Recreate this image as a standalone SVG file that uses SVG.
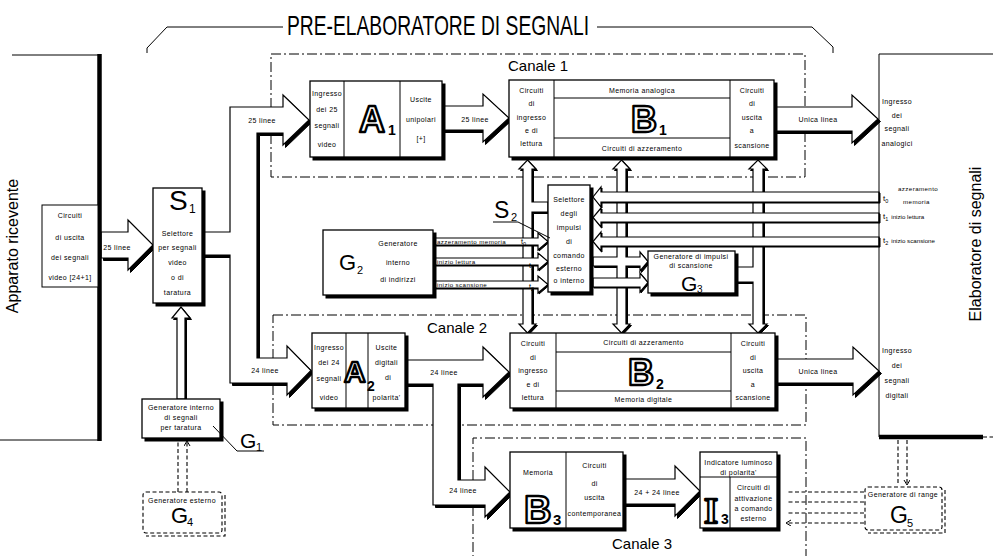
<svg xmlns="http://www.w3.org/2000/svg" width="993" height="556" viewBox="0 0 993 556">
<style>
text{font-family:"Liberation Sans",Arial,sans-serif;fill:#000}
.t{font-size:7px;text-anchor:middle;letter-spacing:0.4px}
.ts{font-size:6.2px;letter-spacing:0.4px}
.box{fill:#fff;stroke:#000;stroke-width:1.3}
.shd{fill:#000;stroke:#000;stroke-width:1}
.ln{fill:none;stroke:#000;stroke-width:1}
.thk{fill:none;stroke:#000;stroke-width:4.5}
.pipe{fill:#fff;stroke:#000;stroke-width:1.2;stroke-linejoin:miter}
.cb{fill:none;stroke:#000;stroke-width:1;stroke-dasharray:10 3 2 3}
.dsh{fill:none;stroke:#000;stroke-width:1.1;stroke-dasharray:4 2.5}
.big{font-weight:bold;fill:#fff;stroke:#000;stroke-width:2.4;stroke-linejoin:round}
.sub{font-weight:bold}
.lbl{font-size:15px}
</style>
<defs>
<marker id="ah" markerWidth="8" markerHeight="8" refX="5" refY="3" orient="auto" markerUnits="userSpaceOnUse"><path d="M0,0 L5,3 L0,6" fill="none" stroke="#000" stroke-width="1"/></marker>
<path id="c_in" d="M101,232 H128 V220 L153,245 L128,270 V258 H101 Z"/>
<path id="c_s1" d="M202,232 H230 V107 H283 V95 L309,120 L283,145 V133 H257 V358 H287 V346 L311,370.5 L287,395 V383 H230 V255 H202 Z"/>
<path id="c_a1" d="M442,106 H483 V94 L509,118 L483,142 V130 H442 Z"/>
<path id="c_b1" d="M774,107 H852 V95 L878,119 L852,143 V131 H774 Z"/>
<path id="c_a2" d="M405,360 H483 V347 L509,372 L483,397 V384 H458 V480 H485 V467 L510,492 L485,517 V505 H433 V384 H405 Z"/>
<path id="c_b2" d="M775,359 H853 V347 L879,371 L853,395 V383 H775 Z"/>
<path id="c_b3" d="M623,479 H675 V466 L700,491 L675,516 V504 H623 Z"/>
<path id="v_l" d="M527.5,160 L536,169 H532 V202 H548 V212 H532 V324 H536 L527.5,333 L519,324 H523 V169 H519 Z"/>
<path id="v_m" d="M621.5,160 L630,169 H626 V257 H640 V252 L648,261.5 L640,271 V266 H626 V324 H630 L621.5,333 L613,324 H617 V266 H593 V257 H617 V169 H613 Z"/>
<path id="v_r" d="M758,160 L767,169 H763 V324 H767 L758,333 L749,324 H753 V282 H736 V267 H753 V169 H749 Z"/>
<path id="v_g1" d="M177,399 V318 H172 L181,307 L190,318 H185 V399 Z"/>
<path id="tp1" d="M879,192 H601 V187 L593,197 L601,207 V202 H879 Z"/>
<path id="tp2" d="M879,213 H601 V208 L593,217.5 L601,227 V222 H879 Z"/>
<path id="tp3" d="M879,237 H601 V232 L593,241.5 L601,251 V246 H879 Z"/>
<path id="g2a" d="M434,238 H538 V233 L548,241.5 L538,250 V245 H434 Z"/>
<path id="g2b" d="M434,258 H538 V253 L548,261.5 L538,270 V265 H434 Z"/>
<path id="g2c" d="M434,281 H538 V276 L548,284.5 L538,293 V288 H434 Z"/>
<path id="g3b" d="M593,278 H640 V273 L648,282.5 L640,292 V287 H593 Z"/>
</defs>
<rect width="993" height="556" fill="#fff"/>

<g id="title">
<path d="M147,53 V48 L167,27 H283 M597,27 H812 L833,47 V53" class="ln"/>
<text x="287" y="35" font-size="28" textLength="302" lengthAdjust="spacingAndGlyphs">PRE-ELABORATORE DI SEGNALI</text>
</g>

<g id="canali">
<rect x="271" y="54" width="534" height="123" class="cb"/>
<rect x="273" y="315" width="533" height="110" class="cb"/>
<path d="M473,570 V438 H806 V570" class="cb"/>
<text x="508" y="71" class="lbl">Canale 1</text>
<text x="427" y="333" class="lbl">Canale 2</text>
<text x="612" y="549" class="lbl">Canale 3</text>
</g>

<g id="connectors">
<use href="#v_l" class="shd" transform="translate(1.5,1.5)"/><use href="#v_l" class="pipe"/>
<use href="#v_m" class="shd" transform="translate(1.5,1.5)"/><use href="#v_m" class="pipe"/>
<use href="#v_r" class="shd" transform="translate(1.5,1.5)"/><use href="#v_r" class="pipe"/>
<use href="#tp1" class="shd" transform="translate(1,1)"/><use href="#tp1" class="pipe"/>
<use href="#tp2" class="shd" transform="translate(1,1)"/><use href="#tp2" class="pipe"/>
<use href="#tp3" class="shd" transform="translate(1,1)"/><use href="#tp3" class="pipe"/>
<use href="#g2a" class="shd" transform="translate(1,1)"/><use href="#g2a" class="pipe"/>
<use href="#g2b" class="shd" transform="translate(1,1)"/><use href="#g2b" class="pipe"/>
<use href="#g2c" class="shd" transform="translate(1,1)"/><use href="#g2c" class="pipe"/>
<use href="#g3b" class="shd" transform="translate(1,1)"/><use href="#g3b" class="pipe"/>
<use href="#v_g1" class="shd" transform="translate(1.5,1.5)"/><use href="#v_g1" class="pipe"/>
<use href="#c_in" class="shd" transform="translate(2.5,2.5)"/><use href="#c_in" class="pipe"/>
<use href="#c_s1" class="shd" transform="translate(2.5,2.5)"/><use href="#c_s1" class="pipe"/>
<use href="#c_a1" class="shd" transform="translate(2.5,2.5)"/><use href="#c_a1" class="pipe"/>
<use href="#c_b1" class="shd" transform="translate(2.5,2.5)"/><use href="#c_b1" class="pipe"/>
<use href="#c_a2" class="shd" transform="translate(2.5,2.5)"/><use href="#c_a2" class="pipe"/>
<use href="#c_b2" class="shd" transform="translate(2.5,2.5)"/><use href="#c_b2" class="pipe"/>
<use href="#c_b3" class="shd" transform="translate(2.5,2.5)"/><use href="#c_b3" class="pipe"/>
<path d="M178,492 V441 M187,492 V441" class="dsh" marker-end="url(#ah)"/>
<path d="M898,440 V485 M907,440 V485" class="dsh" marker-end="url(#ah)"/>
<path d="M864,492 H786 M864,502 H786 M864,513 H786 M864,523 H786" class="dsh" marker-end="url(#ah)"/>
<text x="117" y="249.5" class="t">25 linee</text>
<text x="262" y="122.5" class="t">25 linee</text>
<text x="265" y="373" class="t">24 linee</text>
<text x="475" y="121.5" class="t">25 linee</text>
<text x="818" y="121.5" class="t">Unica linea</text>
<text x="444" y="374.5" class="t">24 linee</text>
<text x="818" y="374" class="t">Unica linea</text>
<text x="463" y="493" class="t">24 linee</text>
<text x="657" y="494.5" class="t">24 + 24 linee</text>
<text x="437" y="244" class="ts">azzeramento memoria</text>
<text x="437" y="264" class="ts">inizio lettura</text>
<text x="437" y="287" class="ts">inizio scansione</text>
<text x="521" y="244" font-size="7.5">t<tspan font-size="5.5" dy="1.5">0</tspan></text>
<text x="529" y="268" font-size="7.5">t<tspan font-size="5.5" dy="1.5">1</tspan></text>
<text x="529" y="289" font-size="7.5">t<tspan font-size="5.5" dy="1.5">2</tspan></text>
</g>

<g id="apparato">
<path d="M12,55 H99 M0,440 H98" class="ln"/>
<path d="M99.5,54 V441" class="thk"/>
<text transform="translate(18,246) rotate(-90)" font-size="16" text-anchor="middle">Apparato ricevente</text>
<rect x="42" y="205" width="56" height="82" fill="#fff" stroke="#000" stroke-width="1"/>
<text x="70" y="217.5" class="t">Circuiti</text>
<text x="70" y="239.5" class="t">di uscita</text>
<text x="70" y="259.5" class="t">dei segnali</text>
<text x="70" y="279.5" class="t">video [24+1]</text>
</g>

<g id="elaboratore">
<path d="M879,54 H993 M879,54 V437" class="ln"/>
<path d="M879,437 H983" class="thk"/>
<path d="M983,437 H993" class="dsh"/>
<text transform="translate(981,244) rotate(-90)" font-size="16" text-anchor="middle">Elaboratore di segnali</text>
<text x="897" y="104" class="t">Ingresso</text>
<text x="897" y="117.5" class="t">dei</text>
<text x="897" y="131" class="t">segnali</text>
<text x="897" y="145.5" class="t">analogici</text>
<text x="897" y="352.5" class="t">Ingresso</text>
<text x="897" y="367.5" class="t">dei</text>
<text x="897" y="382.5" class="t">segnali</text>
<text x="897" y="397.5" class="t">digitali</text>
<text x="883" y="201" font-size="8">t<tspan font-size="5.5" dy="1.5">0</tspan></text>
<text x="898" y="191" class="ts">azzeramento</text>
<text x="903" y="204" class="ts">memoria</text>
<text x="883" y="219" font-size="8">t<tspan font-size="5.5" dy="1.5">1</tspan><tspan font-size="6.2" dy="-1.5" dx="3">inizio lettura</tspan></text>
<text x="883" y="243" font-size="8">t<tspan font-size="5.5" dy="1.5">2</tspan><tspan font-size="6.2" dy="-1.5" dx="3">inizio scansione</tspan></text>
</g>

<g id="S1">
<rect x="156" y="191" width="49" height="115" class="shd"/>
<rect x="153" y="188" width="49" height="115" class="box"/>
<text x="169" y="210" font-size="28">S</text><text x="189" y="213" font-size="12">1</text>
<text x="177.5" y="235.5" class="t">Selettore</text>
<text x="177.5" y="249.5" class="t">per segnali</text>
<text x="177.5" y="264.5" class="t">video</text>
<text x="177.5" y="279.5" class="t">o di</text>
<text x="177.5" y="294.5" class="t">taratura</text>
</g>

<g id="A1">
<rect x="313" y="84" width="132" height="76" class="shd"/>
<rect x="310" y="81" width="132" height="76" class="box"/>
<path d="M344,81 V157 M400,81 V157" class="ln"/>
<text x="327" y="96" class="t">Ingresso</text>
<text x="327" y="112" class="t">dei 25</text>
<text x="327" y="128" class="t">segnali</text>
<text x="327" y="147" class="t">video</text>
<text x="359" y="132" font-size="36" class="big">A</text><text x="388" y="135" font-size="14" class="sub">1</text>
<text x="421" y="101.5" class="t">Uscite</text>
<text x="421" y="121.5" class="t">unipolari</text>
<text x="421" y="140.5" class="t">[+]</text>
</g>

<g id="B1">
<rect x="512" y="83" width="265" height="77" class="shd"/>
<rect x="509" y="80" width="265" height="77" class="box"/>
<path d="M554,80 V157 M730,80 V157 M554,98 H730 M554,138 H730" class="ln"/>
<text x="531.5" y="92.5" class="t">Circuiti</text>
<text x="531.5" y="105.5" class="t">di</text>
<text x="531.5" y="119.5" class="t">ingresso</text>
<text x="531.5" y="132.5" class="t">e di</text>
<text x="531.5" y="145.5" class="t">lettura</text>
<text x="642" y="93" class="t">Memoria analogica</text>
<text x="631" y="132" font-size="36" class="big">B</text><text x="659" y="135" font-size="14" class="sub">1</text>
<text x="642" y="150.5" class="t">Circuiti di azzeramento</text>
<text x="752" y="92.5" class="t">Circuiti</text>
<text x="752" y="105.5" class="t">di</text>
<text x="752" y="119.5" class="t">uscita</text>
<text x="752" y="132.5" class="t">a</text>
<text x="752" y="148" class="t">scansione</text>
</g>

<g id="S2">
<rect x="551" y="188" width="42" height="107" class="shd"/>
<rect x="548" y="185" width="42" height="107" class="box"/>
<text x="569" y="201.5" class="t">Selettore</text>
<text x="569" y="216" class="t">degli</text>
<text x="569" y="230" class="t">impulsi</text>
<text x="569" y="244" class="t">di</text>
<text x="569" y="258" class="t">comando</text>
<text x="569" y="270.5" class="t">esterno</text>
<text x="569" y="283" class="t">o interno</text>
<text x="494" y="218" font-size="23">S</text><text x="511" y="221" font-size="11">2</text>
<path d="M493,222 H518 L550,238" class="ln"/>
</g>

<g id="G2">
<rect x="326" y="233" width="110" height="65" class="shd"/>
<rect x="323" y="230" width="110" height="65" class="box"/>
<text x="339" y="270" font-size="22">G</text><text x="357" y="274" font-size="11">2</text>
<text x="398" y="245.5" class="t">Generatore</text>
<text x="398" y="264.5" class="t">interno</text>
<text x="398" y="281.5" class="t">di indirizzi</text>
</g>

<g id="G3">
<rect x="651" y="254" width="87" height="42" class="shd"/>
<rect x="648" y="251" width="87" height="42" class="box"/>
<text x="691" y="259" class="t">Generatore di impulsi</text>
<text x="691" y="268" class="t">di scansione</text>
<text x="681" y="291" font-size="21">G</text><text x="697" y="293" font-size="10">3</text>
</g>

<g id="A2">
<rect x="315" y="336" width="93" height="75" class="shd"/>
<rect x="312" y="333" width="93" height="75" class="box"/>
<path d="M346,333 V408 M368,333 V408" class="ln"/>
<text x="329" y="349.5" class="t">Ingresso</text>
<text x="329" y="365" class="t">dei 24</text>
<text x="329" y="381" class="t">segnali</text>
<text x="329" y="400" class="t">video</text>
<text x="344" y="382" font-size="30" class="big">A</text><text x="367" y="391" font-size="14" class="sub">2</text>
<text x="386.5" y="349.5" class="t">Uscite</text>
<text x="386.5" y="364.5" class="t">digitali</text>
<text x="388" y="380" class="t">di</text>
<text x="386.5" y="399.5" class="t">polarita'</text>
</g>

<g id="B2">
<rect x="513" y="336" width="265" height="75" class="shd"/>
<rect x="510" y="333" width="265" height="75" class="box"/>
<path d="M556,333 V408 M731,333 V408 M556,352 H731 M556,391 H731" class="ln"/>
<text x="533" y="345.5" class="t">Circuiti</text>
<text x="533" y="359.5" class="t">di</text>
<text x="533" y="372.5" class="t">ingresso</text>
<text x="533" y="386.5" class="t">e di</text>
<text x="533" y="399.5" class="t">lettura</text>
<text x="643.5" y="345" class="t">Circuiti di azzeramento</text>
<text x="628" y="385" font-size="36" class="big">B</text><text x="656" y="389" font-size="14" class="sub">2</text>
<text x="643.5" y="402" class="t">Memoria digitale</text>
<text x="753" y="345.5" class="t">Circuiti</text>
<text x="753" y="359.5" class="t">di</text>
<text x="753" y="372.5" class="t">uscita</text>
<text x="753" y="386.5" class="t">a</text>
<text x="753" y="399.5" class="t">scansione</text>
</g>

<g id="B3">
<rect x="513" y="455" width="113" height="76" class="shd"/>
<rect x="510" y="452" width="113" height="76" class="box"/>
<path d="M566,452 V528" class="ln"/>
<text x="538" y="474.5" class="t">Memoria</text>
<text x="524" y="523" font-size="38" class="big">B</text><text x="553" y="525" font-size="15" class="sub">3</text>
<text x="594.5" y="467.5" class="t">Circuiti</text>
<text x="594.5" y="485.5" class="t">di</text>
<text x="594.5" y="499.5" class="t">uscita</text>
<text x="594.5" y="515.5" class="t">contemporanea</text>
</g>

<g id="I3">
<rect x="703" y="455" width="77" height="76" class="shd"/>
<rect x="700" y="452" width="77" height="76" class="box"/>
<path d="M700,477 H777 M730,477 V528" class="ln"/>
<text x="738.5" y="464.5" class="t">Indicatore luminoso</text>
<text x="738.5" y="474.5" class="t">di polarita'</text>
<text x="704" y="523" font-size="36" class="big" style="font-family:'Liberation Serif',serif">I</text><text x="721" y="524" font-size="14" class="sub">3</text>
<text x="753.5" y="489.5" class="t">Circuiti di</text>
<text x="753.5" y="500.5" class="t">attivazione</text>
<text x="753.5" y="510.5" class="t">a comando</text>
<text x="753.5" y="520.5" class="t">esterno</text>
</g>

<g id="G1">
<rect x="145" y="402" width="78" height="39" class="shd"/>
<rect x="142" y="399" width="78" height="39" class="box"/>
<text x="181" y="410" class="t" font-size="6.5">Generatore interno</text>
<text x="181" y="420" class="t" font-size="6.5">di segnali</text>
<text x="181" y="429.5" class="t" font-size="6.5">per taratura</text>
<path d="M213,426 L237,451 H264" class="ln"/>
<text x="240" y="448" font-size="21">G</text><text x="256" y="451" font-size="11">1</text>
</g>

<g id="G4">
<rect x="143" y="492" width="79" height="41" rx="3" class="dsh" fill="#fff"/>
<path d="M225,495 V536 H146" class="dsh"/>
<text x="182" y="503" class="t" font-size="6.5">Generatore esterno</text>
<text x="171" y="523" font-size="22">G</text><text x="187" y="526" font-size="11">4</text>
</g>

<g id="G5">
<rect x="865" y="487" width="77" height="43" rx="3" class="dsh"/>
<path d="M945,490 V533 H868" class="dsh"/>
<text x="903" y="497" class="t" font-size="6.5">Generatore di range</text>
<text x="890" y="523" font-size="23">G</text><text x="907" y="527" font-size="11">5</text>
</g>
</svg>
